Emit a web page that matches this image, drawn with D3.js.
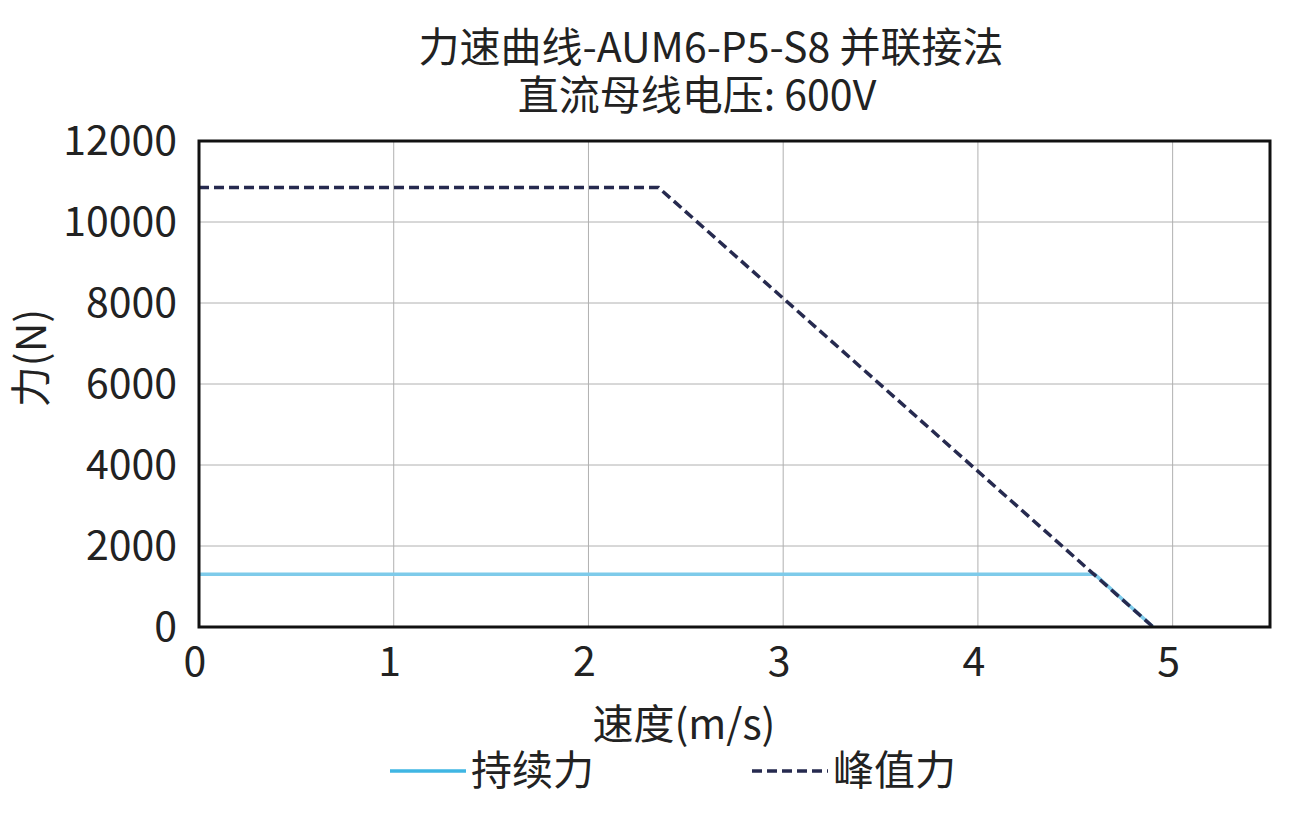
<!DOCTYPE html>
<html><head><meta charset="utf-8">
<script src="https://cdn.jsdelivr.net/npm/d3@7"></script>
<style>body{margin:0;background:#fff}text{font-family:"Noto Sans CJK SC","Noto Sans",sans-serif;fill:#222}</style>
</head><body><svg id="c" width="1301" height="813"></svg>
<script>
var xTicks = [0, 1, 2, 3, 4, 5];
var yTicks = [0, 2000, 4000, 6000, 8000, 10000, 12000];
var contSpeed = [0, 4.6, 4.9];
var contForce = [1300, 1300, 0];
var peakSpeed = [0, 2.36, 4.9];
var peakForce = [10850, 10850, 0];

var svg = d3.select("#c");
var x = d3.scaleLinear().domain([0, 5.5]).range([199, 1270]);
var y = d3.scaleLinear().domain([0, 12000]).range([627, 141]);
var fs = 41;

// grid
svg.append("g").selectAll("line").data(xTicks).enter().append("line")
  .attr("x1", d => x(d)).attr("x2", d => x(d)).attr("y1", 141).attr("y2", 627)
  .attr("stroke", "#b0b0b0").attr("stroke-width", 1);
svg.append("g").selectAll("line").data(yTicks).enter().append("line")
  .attr("x1", 199).attr("x2", 1270).attr("y1", d => y(d)).attr("y2", d => y(d))
  .attr("stroke", "#b0b0b0").attr("stroke-width", 1);

var line = d3.line().x(d => x(d[0])).y(d => y(d[1]));
svg.append("path").attr("d", line(d3.zip(contSpeed, contForce)))
  .attr("fill", "none").attr("stroke", "#7ecbea").attr("stroke-width", 3.5);
svg.append("path").attr("d", line(d3.zip(peakSpeed, peakForce)))
  .attr("fill", "none").attr("stroke", "#262a4f").attr("stroke-width", 3.5)
  .attr("stroke-dasharray", "10,5");

svg.append("rect").attr("x", 199).attr("y", 141).attr("width", 1071).attr("height", 486)
  .attr("fill", "none").attr("stroke", "#111").attr("stroke-width", 3);

svg.append("g").selectAll("text").data(xTicks).enter().append("text")
  .attr("x", d => x(d) - 4).attr("y", 676).attr("text-anchor", "middle")
  .attr("font-size", fs).text(d => d);
svg.append("g").selectAll("text").data(yTicks).enter().append("text")
  .attr("x", 177).attr("y", d => y(d) + 14).attr("text-anchor", "end")
  .attr("font-size", fs).text(d => d);

svg.append("text").attr("x", 711).attr("y", 62).attr("text-anchor", "middle")
  .attr("font-size", fs).text("力速曲线-AUM6-P5-S8 并联接法");
svg.append("text").attr("x", 697).attr("y", 110).attr("text-anchor", "middle")
  .attr("font-size", fs).text("直流母线电压: 600V");
svg.append("text").attr("x", 684).attr("y", 739).attr("text-anchor", "middle")
  .attr("font-size", fs).text("速度(m/s)");
svg.append("text").attr("transform", "translate(46,358) rotate(-90)").attr("text-anchor", "middle")
  .attr("font-size", fs).text("力(N)");

// legend
svg.append("line").attr("x1", 390).attr("x2", 466).attr("y1", 771).attr("y2", 771)
  .attr("stroke", "#3fb6e3").attr("stroke-width", 3.5);
svg.append("text").attr("x", 471).attr("y", 785).attr("font-size", fs).text("持续力");
svg.append("line").attr("x1", 752).attr("x2", 828).attr("y1", 771).attr("y2", 771)
  .attr("stroke", "#262a4f").attr("stroke-width", 3.5).attr("stroke-dasharray", "10,5");
svg.append("text").attr("x", 833).attr("y", 785).attr("font-size", fs).text("峰值力");
</script></body></html>
